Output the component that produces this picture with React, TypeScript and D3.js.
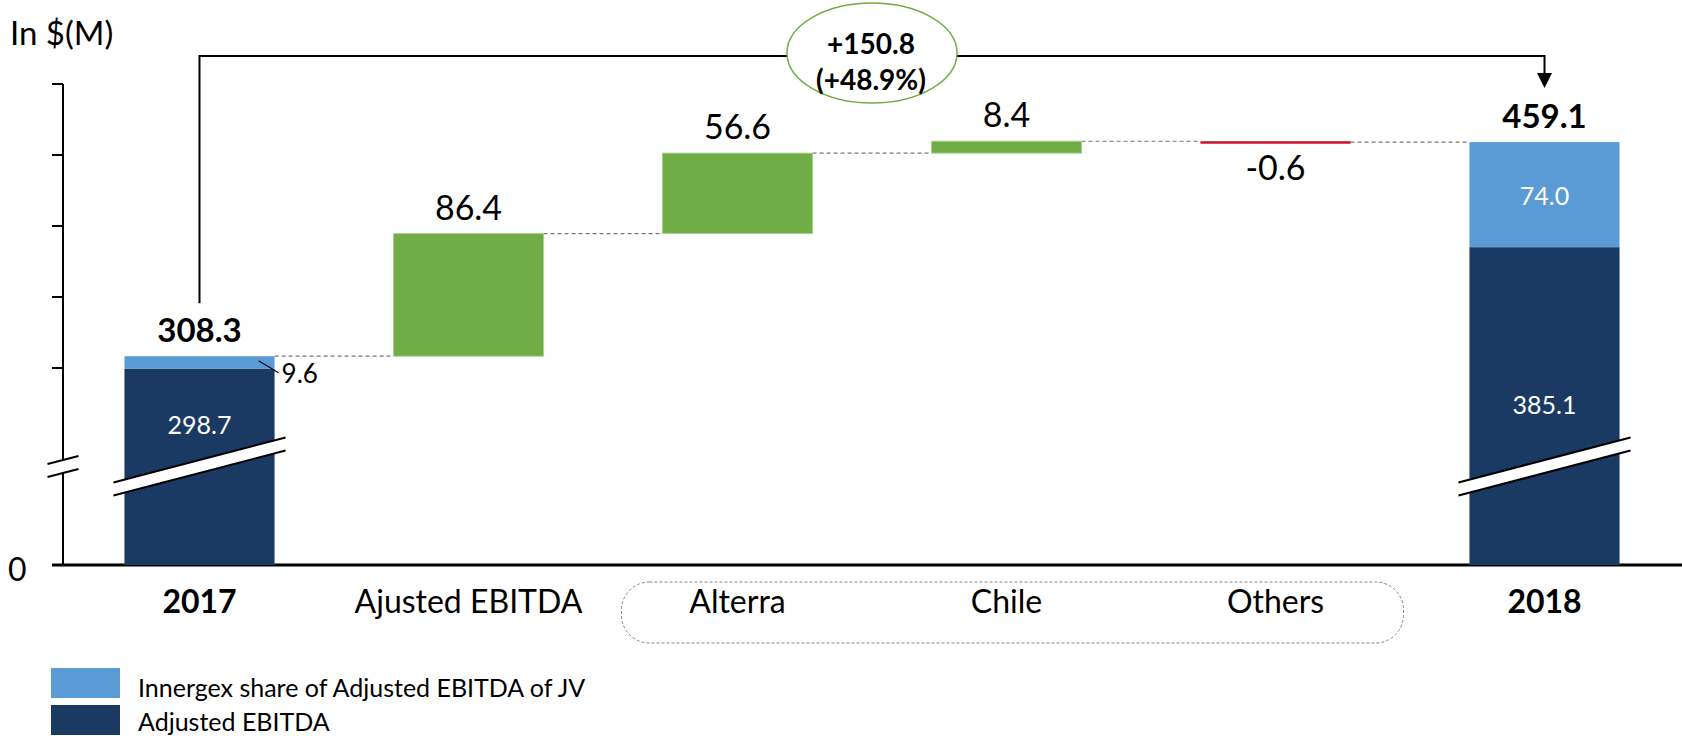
import { useEffect, useRef } from 'react';
import * as d3 from 'd3';

const categories = ['2017', 'Ajusted EBITDA', 'Alterra', 'Chile', 'Others', '2018'];
const boldCategories = ['2017', '2018'];
const totals = [308.3, 459.1];
const adjustedEbitda = [298.7, 385.1];
const jvShare = [9.6, 74.0];
const changes = [86.4, 56.6, 8.4, -0.6];
const yTicks = [300, 350, 400, 450, 500];
const legendLabels = ['Innergex share of Adjusted EBITDA of JV', 'Adjusted EBITDA'];
const changeLabel = ['+150.8', '(+48.9%)'];

const DARK = '#1B3A63';
const LIGHT = '#5B9BD5';
const GREEN = '#70AD47';
const RED = '#C8102E';
const FONT = 'Lato, "Open Sans", sans-serif';

const App = () => {
  const svgRef = useRef<SVGSVGElement>(null);

  useEffect(() => {
    if (!svgRef.current) return;
    const W = 1682;
    const H = 736;
    const svg = d3.select(svgRef.current).attr('width', W).attr('height', H);
    svg.selectAll('*').remove();

    const x = d3.scaleBand()
      .domain(categories)
      .range([65, 1679])
      .paddingInner(0.442)
      .paddingOuter(0.221);
    const bw = x.bandwidth();
    const cx = (c: string) => (x(c) || 0) + bw / 2;

    // broken axis: 0..300 squeezed, 300..500 linear
    const y = d3.scaleLinear().domain([0, 300, 500]).range([565, 368, 84]);
    const axisX = 63;
    const breakY = y(150);
    const slope = -0.262;
    const gap = 6.5;

    // waterfall steps
    const steps: { cat: string; from: number; to: number; v: number }[] = [];
    let run = totals[0];
    changes.forEach((v, i) => {
      steps.push({ cat: categories[i + 1], from: run, to: run + v, v });
      run += v;
    });

    // axis
    svg.append('line')
      .attr('x1', axisX).attr('x2', axisX)
      .attr('y1', y(500)).attr('y2', y(0))
      .attr('stroke', '#000').attr('stroke-width', 2);
    svg.append('g')
      .selectAll('line')
      .data(yTicks)
      .join('line')
      .attr('x1', axisX - 11).attr('x2', axisX)
      .attr('y1', d => y(d)).attr('y2', d => y(d))
      .attr('stroke', '#000').attr('stroke-width', 2);
    svg.append('line')
      .attr('x1', axisX - 11).attr('x2', W)
      .attr('y1', y(0)).attr('y2', y(0))
      .attr('stroke', '#000').attr('stroke-width', 3);

    svg.append('text')
      .attr('x', 8).attr('y', y(0) + 16)
      .style('font-size', '32px').style('font-family', FONT)
      .text('0');
    svg.append('text')
      .attr('x', 10).attr('y', 45)
      .style('font-size', '33px').style('font-family', FONT)
      .text('In $(M)');

    // total bars
    const totalCats = [categories[0], categories[5]];
    totalCats.forEach((c, i) => {
      svg.append('rect')
        .attr('x', x(c) || 0).attr('width', bw)
        .attr('y', y(adjustedEbitda[i]))
        .attr('height', y(0) - y(adjustedEbitda[i]))
        .attr('fill', DARK);
      svg.append('rect')
        .attr('x', x(c) || 0).attr('width', bw)
        .attr('y', y(totals[i]))
        .attr('height', y(adjustedEbitda[i]) - y(totals[i]))
        .attr('fill', LIGHT);
      svg.append('text')
        .attr('x', cx(c)).attr('y', y(totals[i]) - 14)
        .attr('text-anchor', 'middle')
        .style('font-size', '33px').style('font-weight', 'bold').style('font-family', FONT)
        .text(totals[i].toFixed(1));
    });

    // white labels inside total bars
    svg.append('text')
      .attr('x', cx(totalCats[0])).attr('y', 434)
      .attr('text-anchor', 'middle').attr('fill', '#fff')
      .style('font-size', '25px').style('font-family', FONT)
      .text(adjustedEbitda[0].toFixed(1));
    svg.append('text')
      .attr('x', cx(totalCats[1])).attr('y', 414)
      .attr('text-anchor', 'middle').attr('fill', '#fff')
      .style('font-size', '25px').style('font-family', FONT)
      .text(adjustedEbitda[1].toFixed(1));
    svg.append('text')
      .attr('x', cx(totalCats[1])).attr('y', (y(totals[1]) + y(adjustedEbitda[1])) / 2 + 10)
      .attr('text-anchor', 'middle').attr('fill', '#fff')
      .style('font-size', '25px').style('font-family', FONT)
      .text(jvShare[1].toFixed(1));

    // 9.6 callout
    const r0 = (x(totalCats[0]) || 0) + bw;
    svg.append('line')
      .attr('x1', r0 - 16).attr('y1', y(adjustedEbitda[0]) - 8)
      .attr('x2', r0 + 4).attr('y2', y(adjustedEbitda[0]) + 4)
      .attr('stroke', '#000').attr('stroke-width', 1.2);
    svg.append('text')
      .attr('x', r0 + 7).attr('y', y(adjustedEbitda[0]) + 14)
      .style('font-size', '26px').style('font-family', FONT)
      .text(jvShare[0].toFixed(1));

    // dashed connectors
    const levels = [totals[0], ...steps.map(s => s.to)];
    levels.forEach((lv, i) => {
      svg.append('line')
        .attr('x1', (x(categories[i]) || 0) + bw)
        .attr('x2', x(categories[i + 1]) || 0)
        .attr('y1', y(lv)).attr('y2', y(lv))
        .attr('stroke', '#777').attr('stroke-width', 1.2)
        .attr('stroke-dasharray', '4,3');
    });

    // change bars
    steps.forEach(s => {
      const top = y(Math.max(s.from, s.to));
      const bot = y(Math.min(s.from, s.to));
      const h = Math.max(bot - top, 2.5);
      svg.append('rect')
        .attr('x', x(s.cat) || 0).attr('width', bw)
        .attr('y', s.v < 0 ? y(s.from) : top)
        .attr('height', h)
        .attr('fill', s.v < 0 ? RED : GREEN)
        .attr('stroke', s.v < 0 ? 'none' : '#A9D18E')
        .attr('stroke-width', 1);
      svg.append('text')
        .attr('x', cx(s.cat))
        .attr('y', s.v < 0 ? y(s.from) + 39 : top - 14)
        .attr('text-anchor', 'middle')
        .style('font-size', '34px').style('font-family', FONT)
        .text(s.v.toFixed(1));
    });

    // break marks
    const breakMark = (xc: number, half: number) => {
      const x1 = xc - half;
      const x2 = xc + half;
      const yl = (xx: number, off: number) => breakY + off + slope * (xx - xc);
      svg.append('polygon')
        .attr('points', [[x1, yl(x1, -gap)], [x2, yl(x2, -gap)], [x2, yl(x2, gap)], [x1, yl(x1, gap)]]
          .map(p => p.join(',')).join(' '))
        .attr('fill', '#fff');
      [-gap, gap].forEach(off => {
        svg.append('line')
          .attr('x1', x1).attr('y1', yl(x1, off))
          .attr('x2', x2).attr('y2', yl(x2, off))
          .attr('stroke', '#000').attr('stroke-width', 2);
      });
    };
    breakMark(axisX, 15.5);
    totalCats.forEach(c => breakMark(cx(c), bw / 2 + 11));

    // category labels
    svg.append('g')
      .selectAll('text')
      .data(categories)
      .join('text')
      .attr('x', d => cx(d)).attr('y', 613)
      .attr('text-anchor', 'middle')
      .style('font-size', '32px').style('font-family', FONT)
      .style('font-weight', d => (boldCategories.includes(d) ? 'bold' : 'normal'))
      .text(d => d);

    // dashed rounded box around segment categories
    const bx1 = (x('Alterra') || 0) - 41;
    const bx2 = (x('Others') || 0) + bw + 53;
    svg.append('rect')
      .attr('x', bx1).attr('y', 582)
      .attr('width', bx2 - bx1).attr('height', 61)
      .attr('rx', 28).attr('ry', 28)
      .attr('fill', 'none').attr('stroke', '#888')
      .attr('stroke-width', 1).attr('stroke-dasharray', '3,2');

    // top bracket
    const bx = cx(totalCats[0]);
    const ex = cx(totalCats[1]);
    svg.append('path')
      .attr('d', `M${bx},${y(totals[0]) - 53} V56 H${ex} V75`)
      .attr('fill', 'none').attr('stroke', '#000').attr('stroke-width', 2);
    svg.append('path')
      .attr('d', `M${ex - 7.5},73 L${ex + 7.5},73 L${ex},88 Z`)
      .attr('fill', '#000');

    // change bubble
    svg.append('ellipse')
      .attr('cx', 872).attr('cy', 53).attr('rx', 85).attr('ry', 50)
      .attr('fill', '#fff').attr('stroke', GREEN).attr('stroke-width', 1.5);
    changeLabel.forEach((t, i) => {
      svg.append('text')
        .attr('x', 871).attr('y', 54 + i * 36)
        .attr('text-anchor', 'middle')
        .style('font-size', '28px').style('font-weight', 'bold').style('font-family', FONT)
        .text(t);
    });

    // legend
    const legend = svg.append('g').attr('transform', 'translate(51,668)');
    [LIGHT, DARK].forEach((col, i) => {
      legend.append('rect')
        .attr('x', 0).attr('y', i * 37)
        .attr('width', 69).attr('height', 30)
        .attr('fill', col);
      legend.append('text')
        .attr('x', 87).attr('y', 29 + i * 34)
        .style('font-size', '25px').style('font-family', FONT)
        .text(legendLabels[i]);
    });
  }, []);

  return (
    <div style={{ position: 'absolute', left: 0, top: 0, background: '#fff' }}>
      <svg ref={svgRef} style={{ display: 'block' }} />
    </div>
  );
};

export default App;
